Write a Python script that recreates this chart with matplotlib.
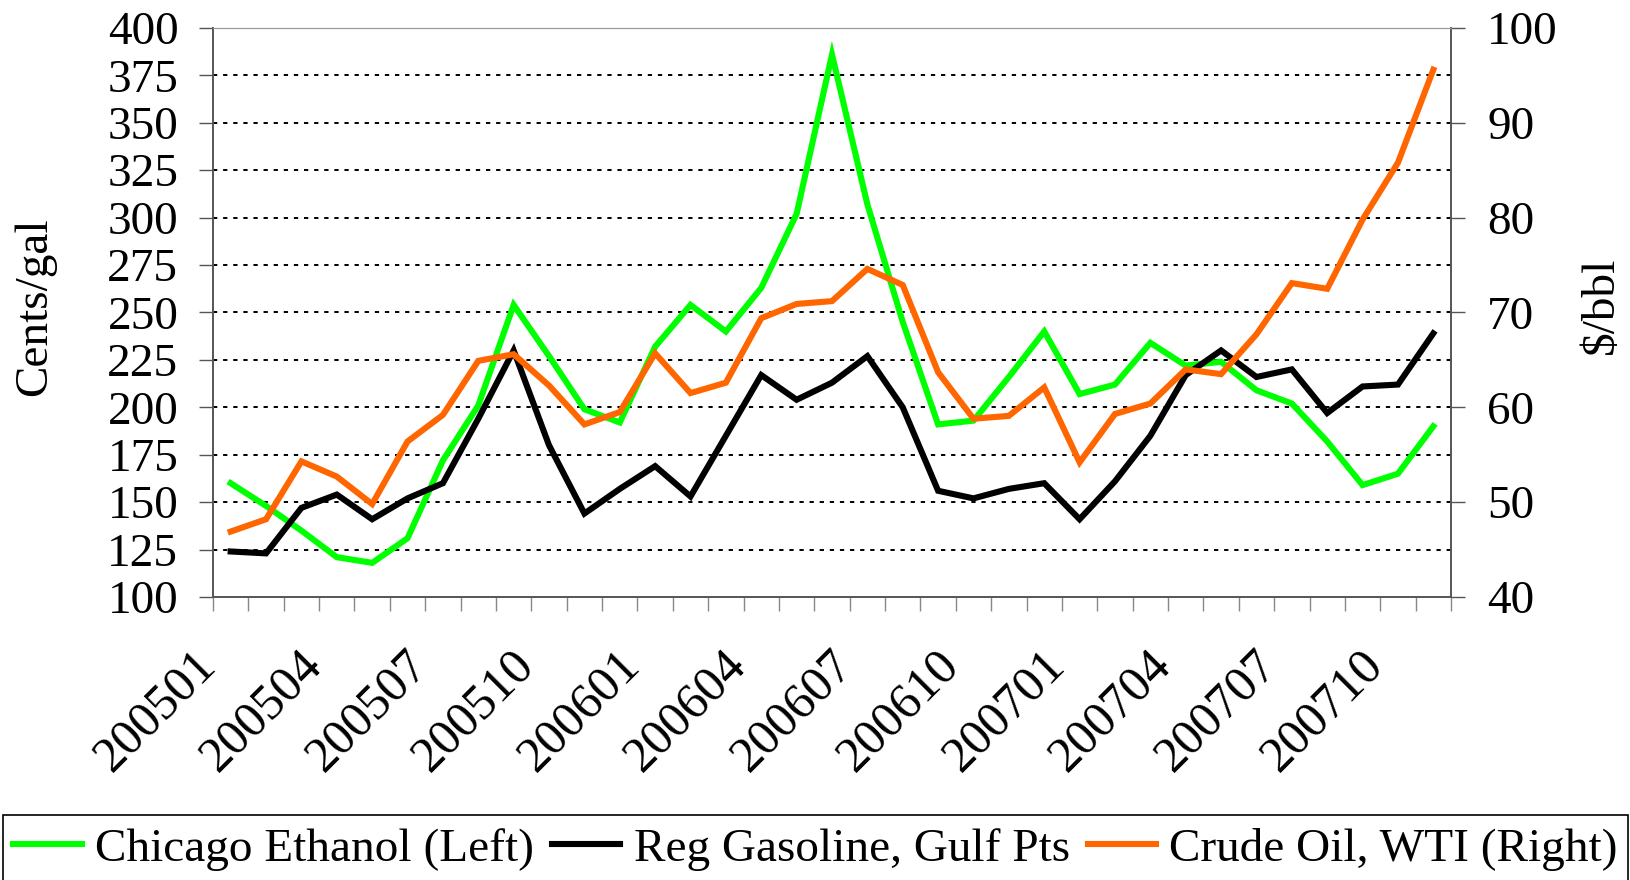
import matplotlib
matplotlib.use("Agg")
import matplotlib.pyplot as plt
from matplotlib.patches import Rectangle
from matplotlib.transforms import ScaledTranslation

plt.rcParams['font.family'] = ['Liberation Serif', 'DejaVu Serif']

# monthly values, 200501 .. 200711
months = ['200501', '200502', '200503', '200504', '200505', '200506', '200507',
          '200508', '200509', '200510', '200511', '200512', '200601', '200602',
          '200603', '200604', '200605', '200606', '200607', '200608', '200609',
          '200610', '200611', '200612', '200701', '200702', '200703', '200704',
          '200705', '200706', '200707', '200708', '200709', '200710', '200711']

ethanol = [160, 148, 135, 121, 118, 131, 172, 201, 254, 227, 199, 192, 232, 254,
           240, 263, 302, 386, 307, 245, 191, 193, 216, 240, 207, 212, 234, 222,
           224, 209, 202, 182, 159, 165, 190]

gasoline = [124, 123, 147, 154, 141, 152, 160, 194, 230, 180, 144, 157, 169, 153,
            185, 217, 204, 213, 227, 200, 156, 152, 157, 160, 141, 161, 185, 217,
            230, 216, 220, 197, 211, 212, 239]

crude = [46.9, 48.2, 54.3, 52.7, 49.8, 56.4, 59.2, 64.9, 65.6, 62.3, 58.2, 59.5,
         65.7, 61.5, 62.6, 69.4, 70.9, 71.2, 74.6, 72.9, 63.7, 58.8, 59.1, 62.1,
         54.2, 59.3, 60.4, 64.0, 63.5, 67.7, 73.1, 72.5, 79.8, 85.8, 95.6]

left_ticks = list(range(100, 401, 25))
right_ticks = list(range(40, 101, 10))

FS = 34
axis_grey = '#555555'

fig = plt.figure(figsize=(16.31, 8.80), dpi=100)
ax = fig.add_axes([213 / 1631, 1 - 597 / 880, (1451 - 213) / 1631, (597 - 28) / 880])
ax2 = ax.twinx()

x = list(range(len(months)))
l1, = ax.plot(x, ethanol, color='#00ff00', lw=4.4, solid_joinstyle='miter', zorder=3)
l2, = ax.plot(x, gasoline, color='black', lw=4.4, solid_joinstyle='miter', zorder=3)
l3, = ax2.plot(x, crude, color='#ff6600', lw=4.4, solid_joinstyle='miter', zorder=3)

ax.set_xlim(-0.5, len(months) - 0.5)
ax.set_ylim(100, 400)
ax2.set_ylim(40, 100)

# gridlines on the left scale
ax.set_axisbelow(True)
for v in left_ticks[1:]:
    ax.axhline(v, color='black', lw=1.4, dashes=(2.2, 3.0), zorder=1)

ax.set_yticks(left_ticks)
ax2.set_yticks(right_ticks)

# category boundaries as tick marks, labels every third month
ax.set_xticks([i - 0.5 for i in range(len(months) + 1)])
ax.set_xticklabels([])
ax.set_xticks(x[::3], months[::3], minor=True)
ax.tick_params(axis='x', which='major', direction='out', length=10, width=1, color='#888888')
ax.tick_params(axis='x', which='minor', length=0, pad=44, labelsize=36)
for lab in ax.get_xticklabels(minor=True):
    lab.set_rotation(45)
    lab.set_rotation_mode('anchor')
    lab.set_ha('right')
    lab.set_va('center')
    lab.set_transform(lab.get_transform() + ScaledTranslation(-0.22, 0, fig.dpi_scale_trans))

ax.tick_params(axis='y', direction='out', length=10, width=1, color=axis_grey,
               pad=15, labelsize=FS)
ax2.tick_params(axis='y', direction='out', length=10, width=1, color=axis_grey,
                pad=16, labelsize=FS)

for a in (ax, ax2):
    for side in ('left', 'right', 'bottom'):
        a.spines[side].set_color(axis_grey)
        a.spines[side].set_linewidth(1.2)
    a.spines['top'].set_color('#999999')
    a.spines['top'].set_linewidth(0.8)

fig.text(35 / 1631, 1 - 307 / 880, 'Cents/gal', rotation=90, ha='center', va='center', fontsize=FS)
fig.text(1602 / 1631, 1 - 305 / 880, r'\$/bbl', rotation=90, ha='center', va='center', fontsize=FS)

# legend box runs past the bottom edge of the image
fig.patches.append(Rectangle((3 / 1631, -0.05), 1625 / 1631, 0.05 + 65 / 880,
                             transform=fig.transFigure, fill=False,
                             edgecolor='black', lw=1.2))
leg = fig.legend([l1, l2, l3],
                 ['Chicago Ethanol (Left)', 'Reg Gasoline, Gulf Pts', 'Crude Oil, WTI (Right)'],
                 loc='center', bbox_to_anchor=(0.5, 1 - 849 / 880), ncol=3,
                 fontsize=FS, frameon=False, borderpad=0.1,
                 handlelength=1.45, handletextpad=0.28, columnspacing=0.38,
                 borderaxespad=0)

fig.savefig('out.png', dpi=100)
